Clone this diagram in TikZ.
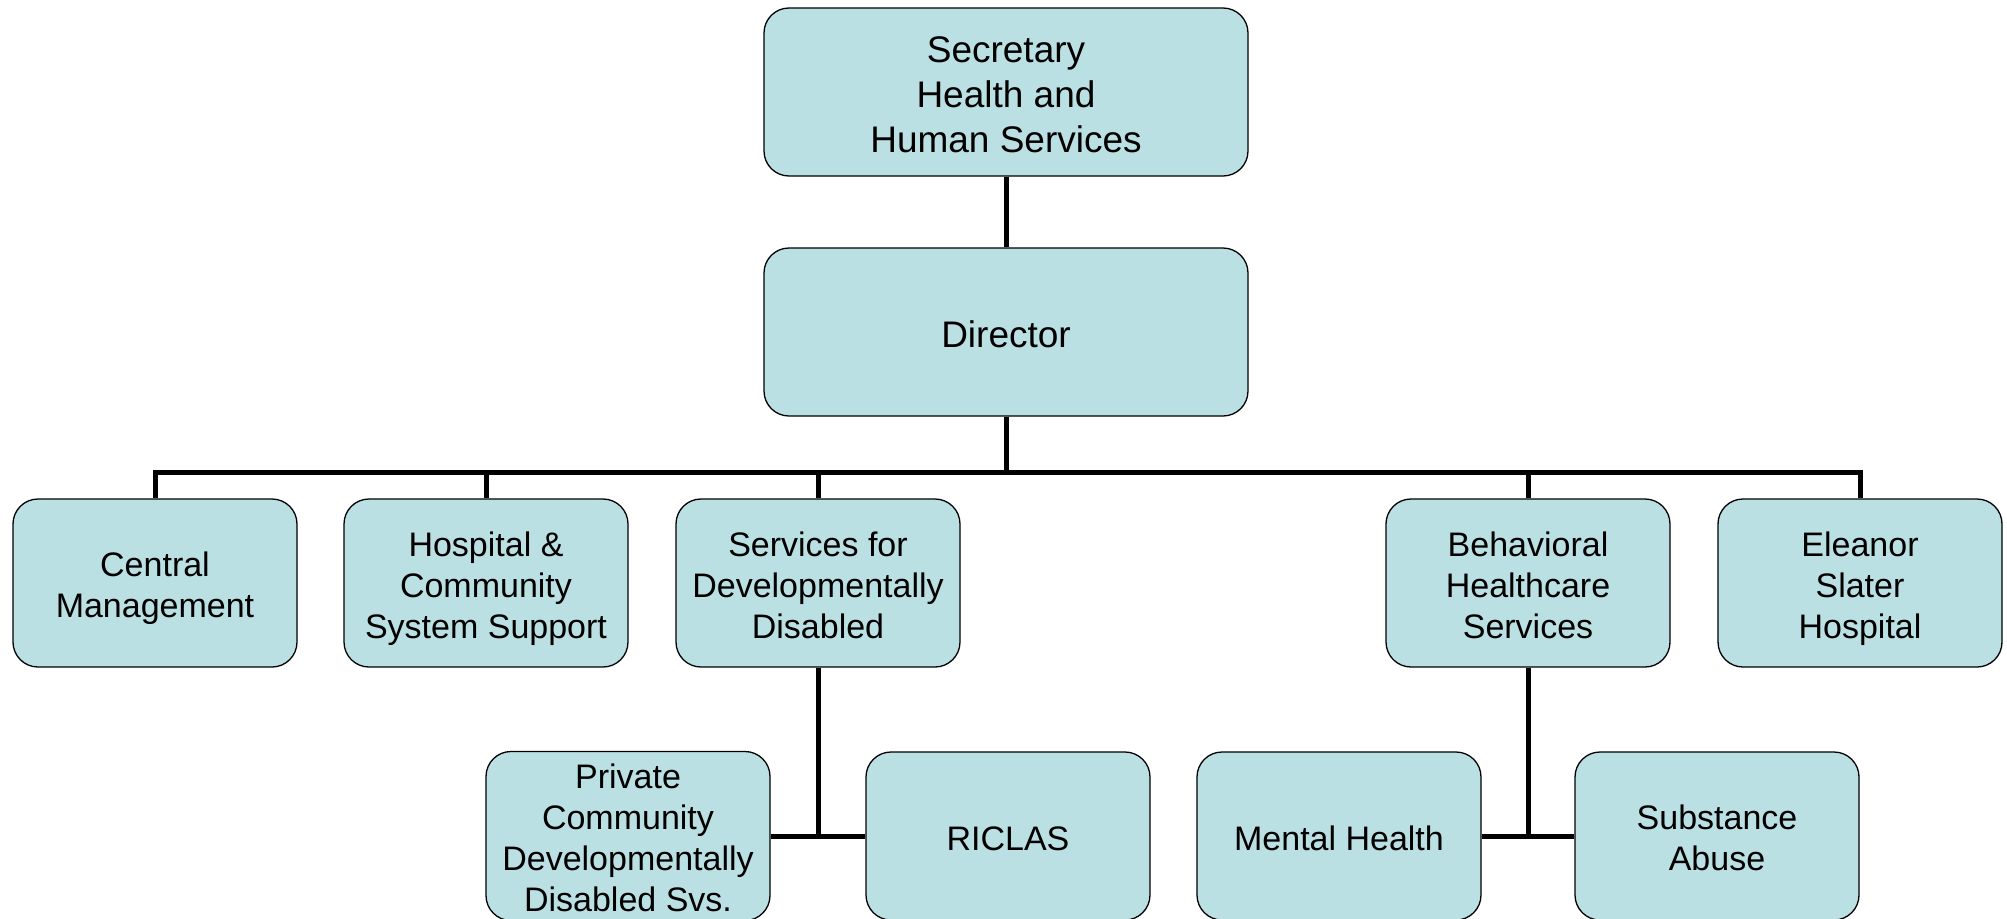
\documentclass[tikz,border=0pt]{standalone}
\usepackage{fontspec}
\setmainfont{Liberation Sans}
\definecolor{boxfill}{RGB}{187,224,227}
\newcommand{\topst}{\rule{0pt}{37pt}}
\newcommand{\topbig}{\rule{0pt}{39pt}}
\newcommand{\botst}{\rule[-9pt]{0pt}{0pt}}
\begin{document}
\begin{tikzpicture}[x=1pt,y=-1pt,
  orgbox/.style={draw=black, line width=1.3pt, fill=boxfill, rounded corners=25pt,
    minimum width=284pt, minimum height=168pt, inner sep=0pt, align=center,
    font=\fontsize{34}{41}\selectfont},
  bigbox/.style={orgbox, minimum width=484pt, font=\fontsize{37}{45}\selectfont},
  conn/.style={line width=5pt}]
\useasboundingbox (0,0) rectangle (2007,918);
\clip (0,0) rectangle (2007,918);
\coordinate (bar) at (1006,472);
\coordinate (j1) at (818,836);
\coordinate (j2) at (1528,836);
\node[bigbox] (sec) at (1006,92) {\topbig Secretary\\Health and\\Human Services\botst};
\node[bigbox] (dir) at (1006,332) {\topbig Director\botst};
\node[orgbox] (cm) at (155,583) {\topst Central\\Management\botst};
\node[orgbox] (hosp) at (486,583) {\topst Hospital \&\\Community\\System Support\botst};
\node[orgbox] (sdd) at (818,583) {\topst Services for\\Developmentally\\Disabled\botst};
\node[orgbox] (bhs) at (1528,583) {\topst Behavioral\\Healthcare\\Services\botst};
\node[orgbox] (esh) at (1860,583) {\topst Eleanor\\Slater\\Hospital\botst};
\node[orgbox] (pcd) at (628,836) {\topst Private\\Community\\Developmentally\\Disabled Svs.\botst};
\node[orgbox] (ric) at (1008,836) {\topst RICLAS\botst};
\node[orgbox] (mh) at (1339,836) {\topst Mental Health\botst};
\node[orgbox] (sa) at (1717,836) {\topst Substance\\Abuse\botst};
\draw[conn] (sec.south) -- (dir.north);
\draw[conn] (dir.south) -- (bar);
\draw[conn] (cm.north) -- (cm.north |- bar) -- (esh.north |- bar) -- (esh.north);
\draw[conn] (hosp.north) -- (hosp.north |- bar);
\draw[conn] (sdd.north) -- (sdd.north |- bar);
\draw[conn] (bhs.north) -- (bhs.north |- bar);
\draw[conn] (sdd.south) -- (j1);
\draw[conn] (pcd.east) -- (ric.west);
\draw[conn] (bhs.south) -- (j2);
\draw[conn] (mh.east) -- (sa.west);
\end{tikzpicture}
\end{document}
